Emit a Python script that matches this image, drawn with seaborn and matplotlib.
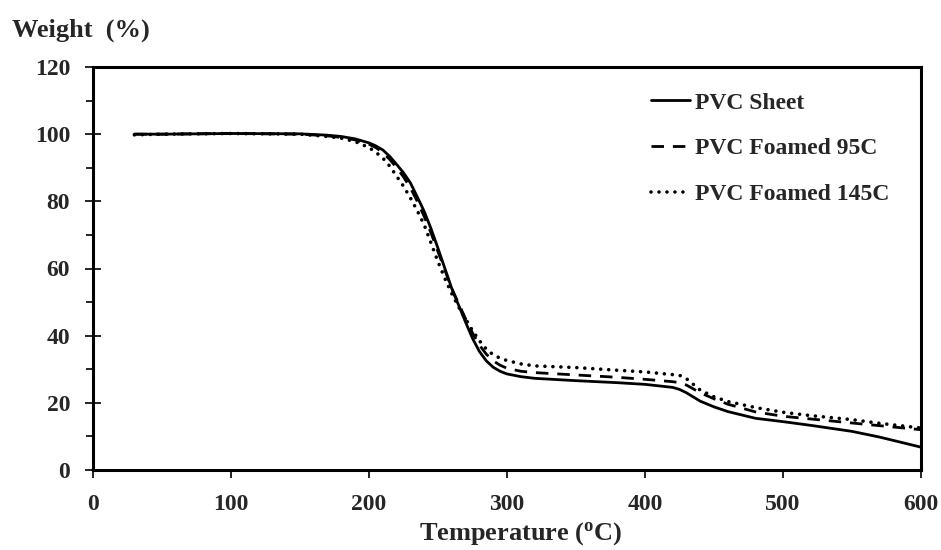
import matplotlib
matplotlib.use("Agg")
import matplotlib.pyplot as plt
import seaborn as sns
import pandas as pd
from matplotlib.ticker import MultipleLocator

temperature = [30, 50, 100, 150, 170, 180, 190, 200, 205, 210, 215, 220, 225, 230, 235,
               240, 245, 250, 255, 260, 265, 270, 275, 280, 285, 290, 295, 300, 310,
               320, 350, 380, 400, 420, 425, 430, 440, 450, 460, 480, 500, 520, 550,
               570, 600]
pvc_sheet = [100, 100, 100.2, 100.1, 99.7, 99.3, 98.6, 97.4, 96.5, 95.3, 93.4, 91, 88.5,
             85.5, 81.3, 77, 71.8, 66, 60, 54, 49, 44, 39.2, 35.3, 32.5, 30.6, 29.4,
             28.6, 27.8, 27.3, 26.6, 26, 25.5, 24.6, 24, 23, 20.5, 18.8, 17.4, 15.4,
             14.4, 13.3, 11.5, 9.8, 6.8]
pvc_foamed_95 = [100, 100, 100.2, 100, 99.5, 99, 98.3, 97, 96, 94.5, 92.5, 90, 87.3, 84,
                 80, 75.5, 70.5, 65, 59.5, 54, 49.5, 45, 40.8, 37.2, 34.5, 32.5, 31.2,
                 30.3, 29.4, 29, 28.3, 27.6, 27, 26.3, 26, 25.3, 23, 21.2, 19.6, 17.3,
                 16, 15.2, 14, 13.2, 12]
pvc_foamed_145 = [99.8, 100, 100.2, 100, 99.3, 98.8, 97.8, 96, 94.6, 92.9, 90.5, 87.5,
                  84.5, 81, 77.2, 73, 67.5, 62, 57, 52.5, 48.5, 45, 41.5, 38.5, 36, 34.3,
                  33.3, 32.6, 31.6, 31, 30.5, 29.7, 29.2, 28.4, 28.2, 27.2, 23.8, 21.8,
                  20.4, 18.6, 17.2, 16.2, 15, 13.9, 12.5]
series_names = ["PVC Sheet", "PVC Foamed 95C", "PVC Foamed 145C"]
x_ticks = [0, 100, 200, 300, 400, 500, 600]
y_ticks = [0, 20, 40, 60, 80, 100, 120]

sns.set_theme(style="white")
plt.rcParams['font.family'] = ['Liberation Serif', 'DejaVu Serif']
plt.rcParams['font.weight'] = 'bold'

fig = plt.figure(figsize=(9.41, 5.5), dpi=100)
ax = fig.add_axes([93/941, 80/550, 828/941, 403/550])

styles = ["-", (0, (4.5, 3.2)), (0, (0.01, 2.2))]
caps = ["butt", "butt", "round"]
widths = [2.0, 2.0, 2.6]
for name, vals, ls, cap, lw in zip(series_names,
                                   [pvc_sheet, pvc_foamed_95, pvc_foamed_145],
                                   styles, caps, widths):
    df = pd.DataFrame({"Temperature": temperature, "Weight": vals})
    sns.lineplot(data=df, x="Temperature", y="Weight", ax=ax, color="black",
                 linewidth=lw, label=name)
    line = ax.get_lines()[-1]
    line.set_linestyle(ls)
    line.set_dash_capstyle(cap)

ax.set_xlim(0, 600)
ax.set_ylim(0, 120)
ax.set_xticks(x_ticks)
ax.set_yticks(y_ticks)
ax.yaxis.set_minor_locator(MultipleLocator(10))
ax.tick_params(axis='x', which='major', direction='out', length=6, width=1.2,
               labelsize=17, pad=11, color='black', bottom=True)
ax.tick_params(axis='y', which='major', direction='inout', length=12, width=1.2,
               labelsize=17, pad=10.5, color='black', left=True)
ax.tick_params(axis='y', which='minor', direction='out', length=5, width=1.2,
               color='black', left=True)
for lab in ax.get_xticklabels() + ax.get_yticklabels():
    lab.set_fontweight('bold')
for sp in ax.spines.values():
    sp.set_visible(True)
    sp.set_color('black')
    sp.set_linewidth(2.2)
ax.set_xlabel("")
ax.set_ylabel("")

fig.text(12/941, 1 - 37/550, "Weight  (%)", fontsize=19, fontweight='bold',
         ha='left', va='baseline')
fig.text(521/941, 1 - 540/550, "Temperature ($\\mathregular{^{o}}$C)", fontsize=19,
         fontweight='bold', ha='center', va='baseline')

leg = ax.legend(loc='upper left', bbox_to_anchor=((651-93)/828, (470-92)/403),
                frameon=False, fontsize=17, handlelength=1.65, handletextpad=0.2,
                labelspacing=1.03, borderaxespad=0, borderpad=0)
for t in leg.get_texts():
    t.set_fontweight('bold')

fig.savefig("out.png", dpi=100, facecolor="white")
